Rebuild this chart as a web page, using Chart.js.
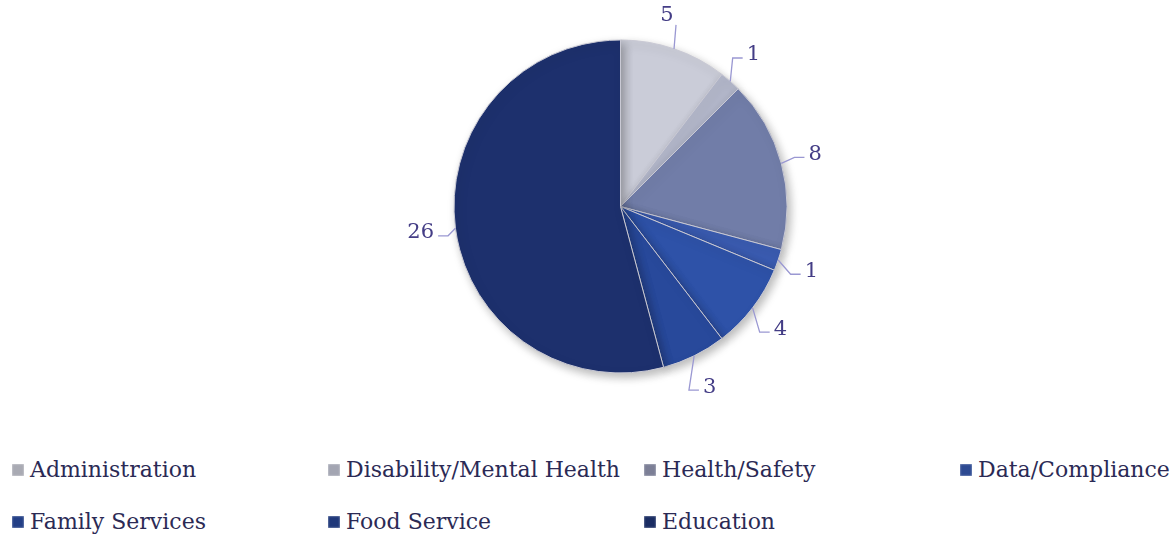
<!DOCTYPE html>
<html>
<head>
<meta charset="utf-8">
<script src="https://cdn.jsdelivr.net/npm/chart.js@4/dist/chart.umd.min.js"></script>
<style>
  html, body { margin: 0; padding: 0; background: #fff; }
  body { width: 1175px; height: 548px; position: relative; overflow: hidden; font-family: "DejaVu Serif", serif; }
  #pieBox { position: absolute; left: 0; top: 0; width: 1175px; height: 420px; }
  #legend {
    position: absolute; left: 12px; top: 457px;
    display: grid; grid-template-columns: 316px 316px 316px auto;
    row-gap: 26px;
    font-size: 22px; color: #2b2a55;
  }
  .item { display: flex; align-items: center; white-space: nowrap; line-height: 26px; }
  .box { flex-shrink: 0; width: 12px; height: 12px; margin-right: 6px; box-shadow: inset 0 0 2px rgba(255,255,255,0.8); }
</style>
</head>
<body>
<div id="pieBox"><canvas id="pie"></canvas></div>
<div id="legend"></div>
<script>
const categories = ['Administration', 'Disability/Mental Health', 'Health/Safety', 'Data/Compliance', 'Family Services', 'Food Service', 'Education'];
const counts = [5, 1, 8, 1, 4, 3, 26];
const sliceColors = ['#caccd8', '#b2b6c9', '#717da8', '#3a5bb0', '#2e52a8', '#28499b', '#1d306d'];
const legendColors = ['#a9aab3', '#a3a5b2', '#7c7f96', '#2d4a92', '#233f86', '#1f387a', '#1a2c62'];

// little drop shadow under the pie
const shadowPlugin = {
  id: 'pieShadow',
  beforeDatasetDraw(chart) {
    const ctx = chart.ctx;
    ctx.save();
    ctx.shadowColor = 'rgba(0,0,0,0.28)';
    ctx.shadowBlur = 10;
    ctx.shadowOffsetX = 3;
    ctx.shadowOffsetY = 4;
  },
  afterDatasetDraw(chart) {
    chart.ctx.restore();
  }
};

// value labels outside the slices, with elbow leader lines
const outsideLabels = {
  id: 'outsideLabels',
  afterDatasetsDraw(chart) {
    const ctx = chart.ctx;
    const meta = chart.getDatasetMeta(0);
    ctx.save();
    ctx.font = '21px "DejaVu Serif", serif';
    ctx.textBaseline = 'middle';
    ctx.textAlign = 'center';
    ctx.strokeStyle = '#9a98d2';
    ctx.lineWidth = 1.3;
    meta.data.forEach((arc, i) => {
      const p = arc.getProps(['x', 'y', 'startAngle', 'endAngle', 'outerRadius'], true);
      const mid = (p.startAngle + p.endAngle) / 2;
      const cos = Math.cos(mid), sin = Math.sin(mid);
      const r = p.outerRadius;
      const text = String(counts[i]);
      const x0 = p.x + cos * r, y0 = p.y + sin * r;
      let lx, ly;
      ctx.beginPath();
      if (Math.abs(cos) < 0.4) {
        // near top or bottom: straight vertical line, label past its end
        const up = sin < 0 ? -1 : 1;
        ctx.moveTo(x0, y0);
        ctx.lineTo(x0 + 2, y0 + up * 24);
        lx = x0 - 7;
        ly = y0 + up * 33;
      } else {
        lx = p.x + cos * (r + 35);
        ly = p.y + sin * (r + 35);
        const dir = cos >= 0 ? 1 : -1;
        const half = ctx.measureText(text).width / 2;
        const ax = lx - dir * (half + 4);
        ctx.moveTo(ax, ly + 3);
        ctx.lineTo(ax - dir * 10, ly + 3);
        ctx.lineTo(x0, y0);
      }
      ctx.stroke();
      ctx.fillStyle = '#443d86';
      ctx.fillText(text, lx, ly);
    });
    ctx.restore();
  }
};

new Chart(document.getElementById('pie'), {
  type: 'pie',
  data: {
    labels: categories,
    datasets: [{
      data: counts,
      backgroundColor: sliceColors,
      borderColor: '#c9c9d4',
      borderWidth: 1
    }]
  },
  options: {
    responsive: true,
    maintainAspectRatio: false,
    animation: false,
    layout: { padding: { top: 39.5, bottom: 46.5, left: 66, right: 0 } },
    plugins: {
      legend: { display: false },
      tooltip: { enabled: false }
    }
  },
  plugins: [shadowPlugin, outsideLabels]
});

// legend as html grid underneath
const legend = document.getElementById('legend');
categories.forEach((name, i) => {
  const item = document.createElement('div');
  item.className = 'item';
  const box = document.createElement('span');
  box.className = 'box';
  box.style.background = legendColors[i];
  item.appendChild(box);
  item.appendChild(document.createTextNode(name));
  legend.appendChild(item);
});
</script>
</body>
</html>
